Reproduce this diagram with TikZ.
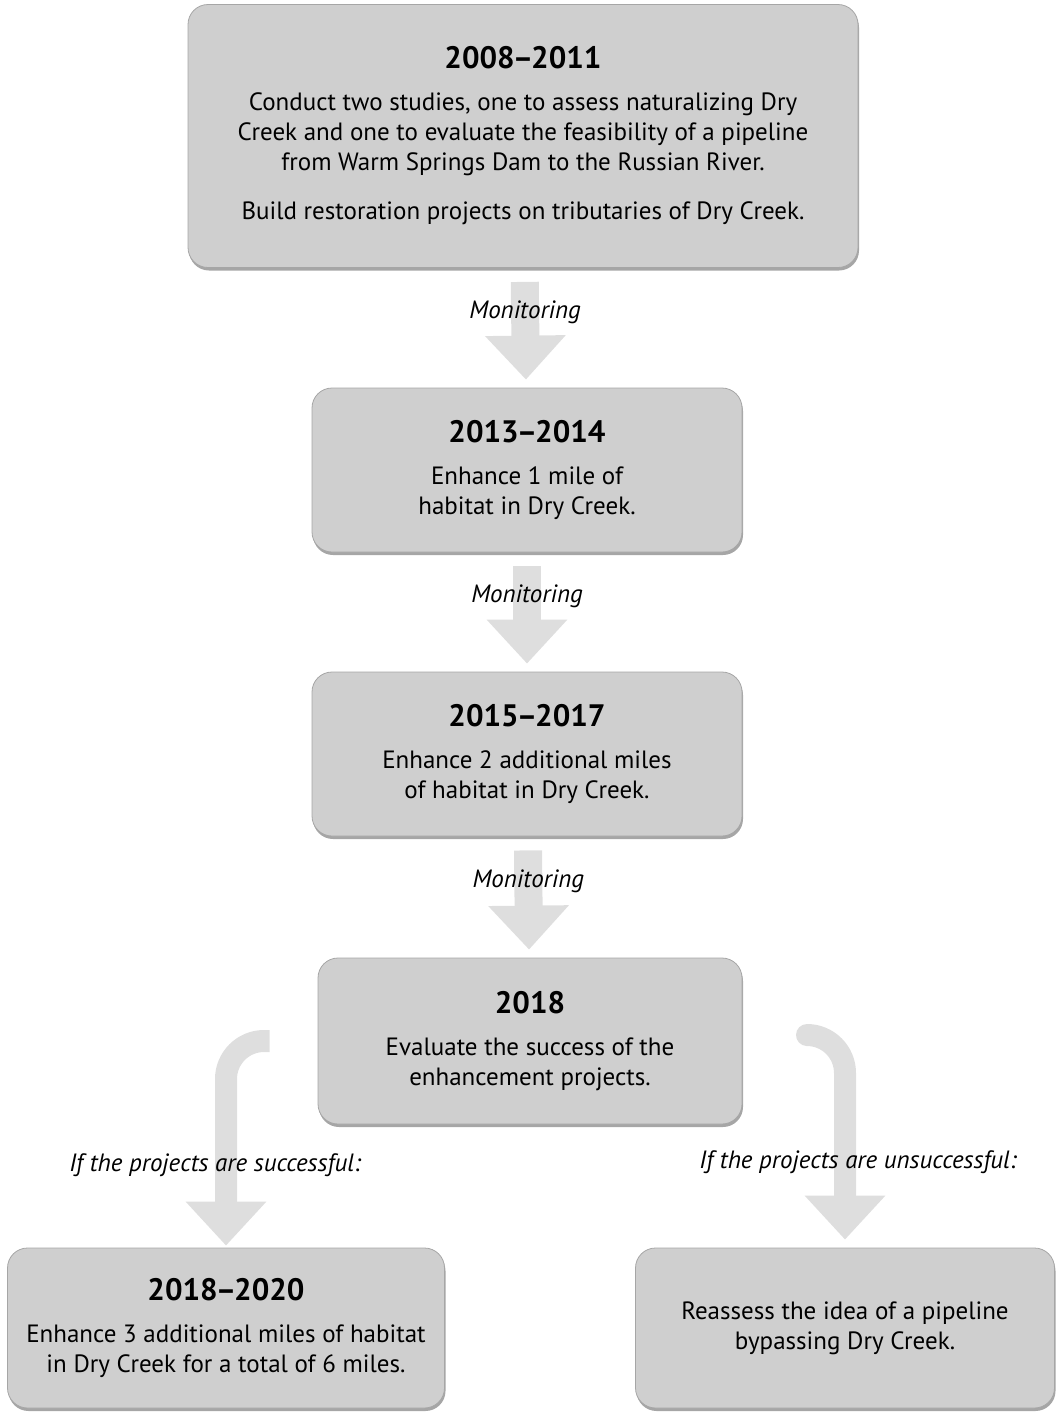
\documentclass[tikz,border=0pt]{standalone}
\usepackage{fontspec}
\setmainfont{PT Sans}
\usetikzlibrary{arrows.meta,calc,shadows}

\newcommand{\yr}[1]{{\fontsize{31}{36}\selectfont\bfseries #1}}
\newcommand{\yrs}[2]{\yr{#1\kern-2pt--\kern-2pt#2}}

\tikzset{
  stagebox/.style={draw=gray!70, line width=0.8pt, fill=gray!38, rounded corners=20pt,
    align=center, inner sep=0pt, font=\fontsize{25}{30}\selectfont,
    drop shadow={shadow xshift=1pt, shadow yshift=-3pt, opacity=0.7}},
  flowarrow/.style={draw=gray!26, line width=28pt, -{Triangle[width=78pt,length=44pt]},
    shorten <=14pt, shorten >=8pt},
  branch/.style={draw=gray!26, line width=22pt, rounded corners=38pt,
    -{Triangle[width=78pt,length=44pt]}},
  monlabel/.style={font=\fontsize{25}{28}\selectfont\itshape, inner sep=1pt},
  iflabel/.style={font=\fontsize{25}{28}\selectfont\itshape, inner sep=1pt}
}

\begin{document}
\begin{tikzpicture}[x=1pt, y=-1pt, line join=round]
\useasboundingbox (0,0) rectangle (1058,1414);

% stages
\node[stagebox, minimum width=670, minimum height=263] (b1) at (523,136)
  {\yrs{2008}{2011}\\[12pt]
   Conduct two studies, one to assess naturalizing Dry\\
   Creek and one to evaluate the feasibility of a pipeline\\
   from Warm Springs Dam to the Russian River.\\[19pt]
   Build restoration projects on tributaries of Dry Creek.};
\node[stagebox, minimum width=430, minimum height=164] (b2) at (527,470)
  {\yrs{2013}{2014}\\[12pt] Enhance 1 mile of\\ habitat in Dry Creek.};
\node[stagebox, minimum width=430, minimum height=164] (b3) at (527,754)
  {\yrs{2015}{2017}\\[12pt] Enhance 2 additional miles\\ of habitat in Dry Creek.};
\node[stagebox, minimum width=424, minimum height=166] (b4) at (530,1041)
  {\yr{2018}\\[12pt] Evaluate the success of the\\ enhancement projects.};
\node[stagebox, minimum width=437, minimum height=160] (b5) at (226,1328)
  {\yrs{2018}{2020}\\[12pt] Enhance 3 additional miles of habitat\\ in Dry Creek for a total of 6 miles.};
\node[stagebox, minimum width=419, minimum height=160] (b6) at (845,1328)
  {Reassess the idea of a pipeline\\ bypassing Dry Creek.};

% monitoring arrows
\draw[flowarrow] (b1) -- (b2) node[monlabel, pos=0.37] (m1) {Monitoring};
\draw[flowarrow] (b2) -- (b3) node[monlabel, pos=0.37] (m2) {Monitoring};
\draw[flowarrow] (b3) -- (b4) node[monlabel, pos=0.37] (m3) {Monitoring};

% outcome branches
\coordinate (ltail) at ($(b4.west)+(-48,0)$);
\coordinate (rtail) at ($(b4.east)+(66,-6)$);
\draw[branch, shorten >=2pt] (ltail) -| (b5.north)
  node[iflabel, pos=0.8, xshift=-11pt] (lok) {If the projects are successful:};
\draw[branch, shorten >=8pt] (rtail) -| (b6.north)
  node[iflabel, pos=0.8, xshift=13pt] (lno) {If the projects are unsuccessful:};
\end{tikzpicture}
\end{document}
